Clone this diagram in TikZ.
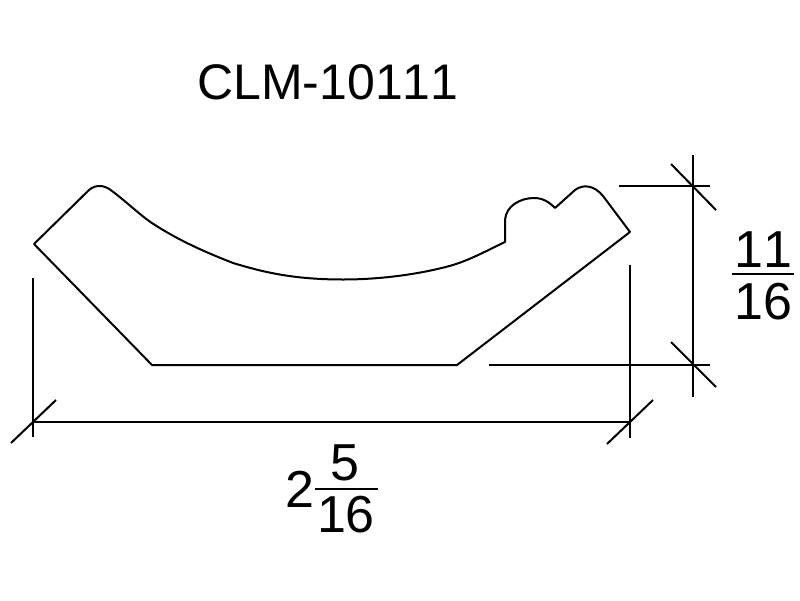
\documentclass[tikz,border=0pt]{standalone}
\usepackage{fontspec}
\setmainfont[Kerning=Off]{Liberation Sans}
\tikzset{
every node/.style={inner sep=0pt,font=\fontsize{50}{50}\selectfont},
fracnum/.style={font=\fontsize{52}{52}\selectfont},
cadline/.style={line width=2pt,line join=round}
}
\begin{document}
\begin{tikzpicture}[x=1pt,y=-1pt]
\useasboundingbox[fill=white] (0,0) rectangle (800,600);
\begin{scope}[cadline]
% profile
\draw (34,244) -- (89,190) .. controls (96,184) and (105,185) .. (112,191)
    .. controls (128,203) and (142,217) .. (155,225)
    .. controls (180,241) and (205,252) .. (233,263)
    .. controls (260,271) and (290,279.5) .. (343,279.5)
    .. controls (385,279.5) and (425,273) .. (453,265)
    .. controls (472,259) and (488,250) .. (505,242)
    -- (505,220) .. controls (506,206) and (520,198) .. (534,198)
    .. controls (543,198) and (549,202) .. (555,208)
    -- (575,190) .. controls (583,184) and (594,185) .. (603,196)
    -- (630,232) -- (457,365) -- (152,365) -- cycle;
% width dimension
\draw (33,278) -- (33,437);
\draw (630,265) -- (630,438);
\draw (33,422) -- (630,422);
\draw (11,443) -- (56,400);
\draw (607,444) -- (653,400);
% height dimension
\draw (619,186) -- (710,186);
\draw (489,365) -- (710,365);
\draw (693,155) -- (693,397);
\draw (671,164) -- (716,210);
\draw (671,342) -- (716,387);
% fraction bars
\draw (732,274) -- (794,274);
\draw (315,489) -- (378,489);
\end{scope}

\node (title) at (328,82){CLM-10111};
\node[fracnum] (heighttop) at (763,249.5){11};
\node[fracnum] (heightbot) at (763,301.5){16};
\node[fracnum] (widthint) at (300,489){2};
\node[fracnum] (widthtop) at (345,462.5){5};
\node[fracnum] (widthbot) at (346,514.5){16};
\end{tikzpicture}
\end{document}
